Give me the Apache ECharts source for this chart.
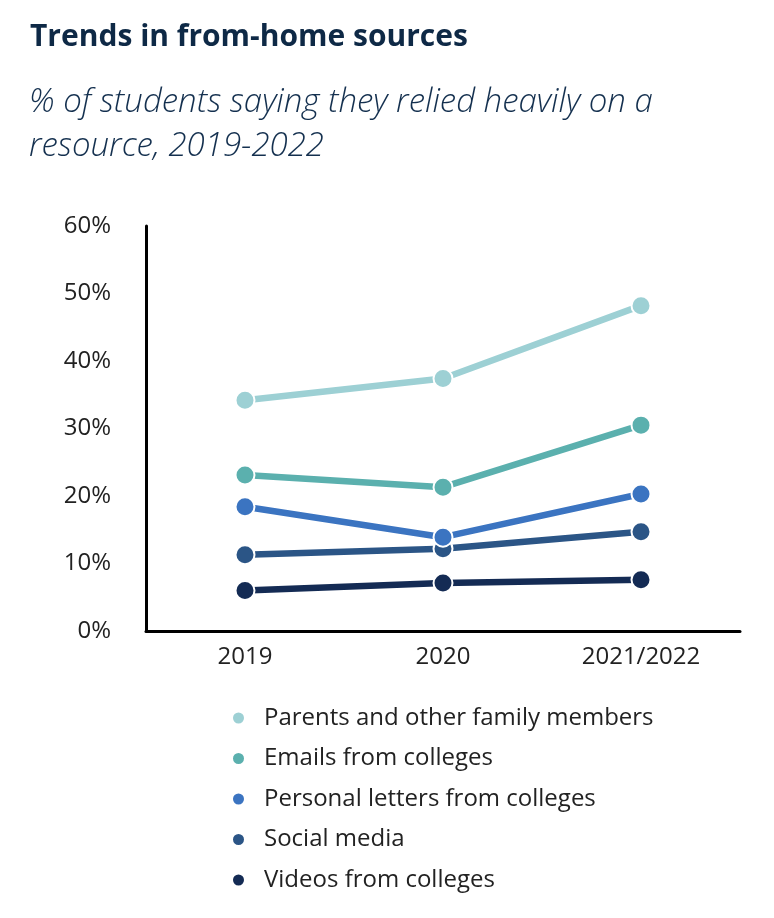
<!DOCTYPE html>
<html>
<head>
    <meta charset="utf-8"/>
    <title>Trends in from-home sources</title>
    <script src="https://cdn.jsdelivr.net/npm/echarts@6/dist/echarts.min.js"></script>
    <style>
        html, body { margin: 0; padding: 0; background: #fff; }
        #chart { width: 774px; height: 918px; }
    </style>
</head>
<body>
<div id="chart"></div>
<script>
    // 数据
    var years = ['2019', '2020', '2021/2022'];
    var seriesNames = [
        'Parents and other family members',
        'Emails from colleges',
        'Personal letters from colleges',
        'Social media',
        'Videos from colleges'
    ];
    var parents = [34.2, 37.4, 48.2];
    var emails = [23.1, 21.3, 30.5];
    var letters = [18.4, 13.9, 20.3];
    var social = [11.3, 12.2, 14.7];
    var videos = [6.0, 7.1, 7.6];
    var yTicks = [0, 10, 20, 30, 40, 50, 60];

    var colors = ['#9dd0d4', '#5bb0ae', '#3b74c1', '#2b5586', '#142b54'];
    var values = [parents, emails, letters, social, videos];

    var series = [];
    for (var i = 0; i < seriesNames.length; i++) {
        series.push({
            name: seriesNames[i],
            type: 'line',
            data: values[i],
            symbol: 'circle',
            symbolSize: 19,
            lineStyle: { width: 6.5, color: colors[i] },
            itemStyle: { color: colors[i], borderColor: '#fff', borderWidth: 2 },
            z: 10 - i
        });
    }

    var myChart = echarts.init(document.getElementById('chart'));
    var option = {
        animation: false,
        color: colors,
        title: [
            {
                text: 'Trends in from-home sources',
                left: 25,
                top: 17,
                textStyle: {
                    fontFamily: 'Open Sans',
                    fontSize: 30,
                    fontWeight: 'bold',
                    color: '#0e2946'
                }
            },
            {
                text: '% of students saying they relied heavily on a\nresource, 2019-2022',
                left: 24,
                top: 76,
                textStyle: {
                    fontFamily: 'Open Sans',
                    fontSize: 33,
                    fontStyle: 'italic',
                    fontWeight: 300,
                    lineHeight: 44,
                    color: '#14304f'
                }
            }
        ],
        legend: {
            orient: 'vertical',
            left: 226,
            top: 701,
            itemWidth: 13,
            itemHeight: 13,
            itemGap: 16.5,
            icon: 'circle',
            textStyle: {
                fontFamily: 'Open Sans',
                fontSize: 24,
                color: '#222',
                padding: [0, 0, 0, 14],
                lineHeight: 24
            },
            data: seriesNames
        },
        grid: {
            left: 146,
            right: 34,
            top: 226,
            bottom: 287
        },
        xAxis: {
            type: 'category',
            boundaryGap: true,
            data: years,
            axisLine: { lineStyle: { color: '#000', width: 3 } },
            axisTick: { show: false },
            axisLabel: {
                fontFamily: 'Open Sans',
                fontSize: 24,
                color: '#222',
                margin: 14
            }
        },
        yAxis: {
            type: 'value',
            min: yTicks[0],
            max: yTicks[yTicks.length - 1],
            interval: 10,
            axisLine: { show: true, lineStyle: { color: '#000', width: 3 } },
            axisTick: { show: false },
            splitLine: { show: false },
            axisLabel: {
                fontFamily: 'Open Sans',
                fontSize: 24,
                color: '#222',
                margin: 35,
                formatter: '{value}%'
            }
        },
        series: series
    };
    myChart.setOption(option);

    window.onresize = function () {
        myChart.resize();
    };
</script>
</body>
</html>
